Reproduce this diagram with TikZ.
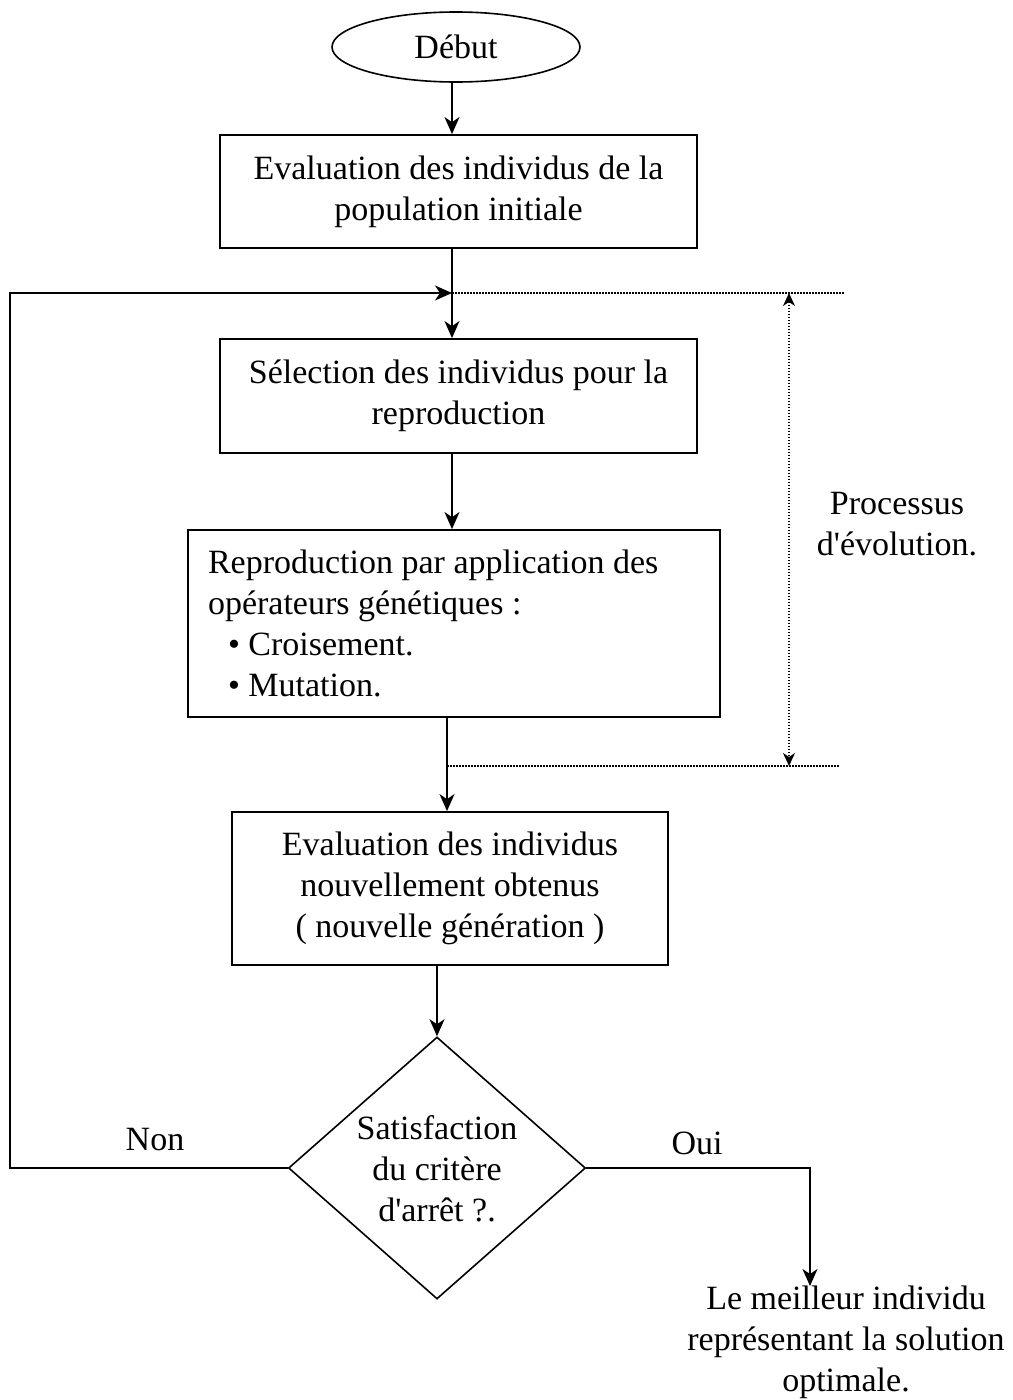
\documentclass[tikz,border=0pt]{standalone}
\usepackage{fontspec}
\setmainfont{Liberation Serif}
\usetikzlibrary{shapes.geometric,arrows.meta}
\begin{document}
\begin{tikzpicture}[x=1pt,y=-1pt,
  every node/.style={font=\fontsize{34}{41}\selectfont},
  box/.style={draw, line width=1.8pt, inner sep=0pt, align=center},
  arr/.style={line width=1.6pt, -{Stealth[length=17pt,width=15pt,inset=5pt]}},
  ln/.style={line width=1.6pt},
  dotln/.style={line width=1.3pt, dash pattern=on 1.5pt off 1.5pt}]
\useasboundingbox (0,0) rectangle (1012,1400);

% nodes
\node[draw, ellipse, line width=1.6pt, minimum width=248pt, minimum height=70pt, inner sep=0pt] (start) at (456,47) {Début};
\node[box, minimum width=477pt, minimum height=113pt] (box1) at (458.5,191.5)
  {Evaluation des individus de la\\population initiale};
\node[box, minimum width=477pt, minimum height=114pt] (box2) at (458.5,396)
  {Sélection des individus pour la\\reproduction};
\node[box, minimum width=532pt, minimum height=187pt, align=flush left, text width=492pt] (box3) at (454,623.5)
  {Reproduction par application des\\opérateurs génétiques :\\\hspace*{20pt}• Croisement.\\\hspace*{20pt}• Mutation.};
\node[box, minimum width=436pt, minimum height=153pt] (box4) at (450,888.5)
  {Evaluation des individus\\nouvellement obtenus\\( nouvelle génération )};
\node[draw, diamond, line width=1.6pt, minimum width=297pt, minimum height=262pt, inner sep=0pt, shape aspect=1.13] (dia) at (437,1168) {};
\node[align=center, inner sep=0pt] (diatext) at (437,1169) {Satisfaction\\du critère\\d\textquotesingle arrêt ?.};
\node[align=center] (evol) at (897,524) {Processus\\d\textquotesingle évolution.};
\node (non) at (155,1140) {Non};
\node (oui) at (697,1143) {Oui};
\node[align=center, anchor=north, inner sep=0pt] (result) at (846,1286)
  {Le meilleur individu\\représentant la solution\\optimale.};

% coordinates
\coordinate (join) at (452,293);
\coordinate (low) at (447,766);
\coordinate (dtop) at (789,293);
\coordinate (dbot) at (789,766);
\coordinate (dtopend) at (845,293);
\coordinate (dbotend) at (840,766);
\coordinate (leftx) at (10,293);
\coordinate (ouicorner) at (810,1168);

% connectors
\draw[arr] (start.south -| join) -- (box1.north -| join);
\draw[arr] (box1.south -| join) -- (box2.north -| join);
\draw[arr] (box2.south -| join) -- (box3.north -| join);
\draw[arr] (box3.south -| low) -- (box4.north -| low);
\draw[arr] (box4.south -| dia.north) -- (dia.north);
\draw[arr] (dia.west) -| (leftx) -- (join);
\draw[arr] (dia.east) -- (ouicorner) -- (ouicorner |- result.north);

% evolution bracket
\draw[dotln] (join) -- (dtopend);
\draw[dotln] (low) -- (dbotend);
\draw[dotln, {Stealth[length=13pt,width=12pt,inset=4pt]}-{Stealth[length=13pt,width=12pt,inset=4pt]}] (dtop) -- (dbot);
\end{tikzpicture}
\end{document}
